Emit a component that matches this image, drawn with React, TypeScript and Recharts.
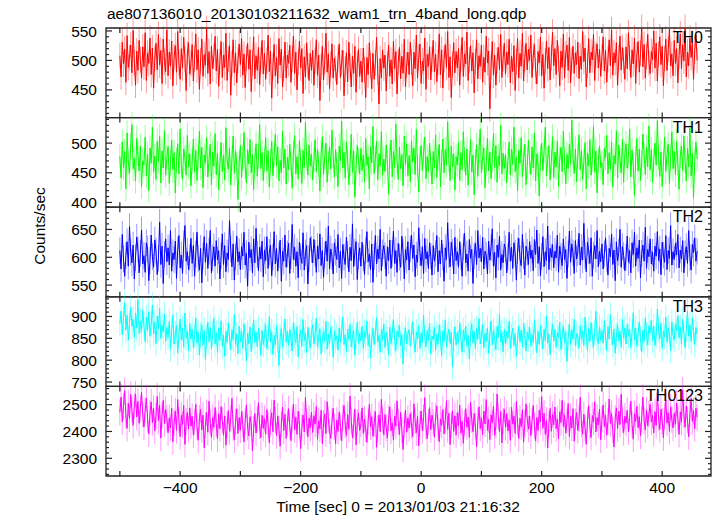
import React from 'react';
import { LineChart, Line, XAxis, YAxis, ErrorBar, ReferenceArea } from 'recharts';

// texts
const TITLE = 'ae807136010_20130103211632_wam1_trn_4band_long.qdp';
const X_LABEL = 'Time [sec] 0 = 2013/01/03 21:16:32';
const Y_LABEL = 'Counts/sec';

// time bins (2 s)
const T_START = -500;
const T_BIN = 2;
const X_DOMAIN = [-523, 481];
const X_TICKS = [-500, -400, -300, -200, -100, 0, 100, 200, 300, 400];
const X_TICK_LABELS = ['−400', '−200', '0', '200', '400'];
const X_LABELED = [-400, -200, 0, 200, 400];

// bands
const BAND_NAMES = ['TH0', 'TH1', 'TH2', 'TH3', 'TH0123'];
const BAND_COLORS = ['#ff0000', '#00ff00', '#0000ff', '#00ffff', '#ff00ff'];
const BAND_ERRORS = [22, 21, 24, 29, 49];
const Y_DOMAINS = [[403, 555], [392, 543], [529, 690], [740, 945], [2234, 2568]];
const Y_MAJOR = [[450, 500, 550], [400, 450, 500], [550, 600, 650], [750, 800, 850, 900], [2300, 2400, 2500]];
const Y_MINOR_STEP = [10, 10, 10, 10, 20];

const TH0 = [
  508, 472, 531, 494, 519, 463, 542, 488, 505, 526, 479, 551, 497, 458, 516, 483, 534, 501, 470, 523,
  489, 547, 466, 512, 495, 538, 476, 521, 453, 503, 529, 484, 544, 492, 517, 461, 536, 498, 481, 552,
  474, 514, 490, 533, 457, 506, 525, 480, 549, 496, 468, 520, 487, 539, 502, 449, 511, 530, 477, 495,
  527, 465, 503, 545, 484, 518, 451, 499, 536, 473, 510, 492, 554, 478, 515, 460, 524, 486, 507, 541,
  482, 519, 456, 498, 532, 471, 509, 488, 546, 466, 502, 525, 441, 494, 535, 479, 513, 462, 500, 528,
  493, 537, 475, 511, 454, 504, 529, 485, 518, 447, 496, 540, 469, 508, 483, 522, 459, 501, 534, 477,
  512, 468, 499, 543, 481, 516, 436, 490, 527, 474, 505, 461, 537, 492, 519, 455, 486, 531, 470, 509,
  495, 526, 463, 502, 541, 478, 514, 450, 497, 533, 487, 520, 444, 506, 472, 530, 491, 466, 512, 483,
  517, 458, 500, 535, 475, 509, 432, 489, 524, 467, 498, 546, 480, 511, 452, 493, 528, 470, 504, 486,
  459, 502, 528, 471, 496, 517, 440, 485, 513, 464, 531, 490, 455, 507, 478, 524, 446, 494, 519, 473,
  499, 463, 521, 484, 437, 505, 476, 530, 491, 452, 512, 468, 496, 539, 481, 426, 503, 470, 518, 487,
  509, 448, 494, 526, 473, 501, 460, 532, 486, 515, 443, 497, 522, 469, 507, 478, 536, 455, 492, 514,
  476, 531, 497, 457, 514, 486, 543, 470, 505, 528, 461, 499, 482, 538, 451, 510, 490, 523, 467, 502,
  534, 481, 510, 464, 497, 545, 476, 518, 453, 502, 527, 488, 549, 471, 506, 437, 493, 530, 479, 515,
  487, 520, 458, 503, 539, 473, 511, 494, 548, 466, 501, 525, 482, 513, 445, 498, 535, 469, 508, 490,
  526, 463, 505, 480, 541, 496, 516, 418, 489, 532, 475, 509, 458, 500, 522, 484, 544, 471, 503, 529,
  477, 514, 493, 536, 462, 507, 481, 525, 449, 498, 537, 470, 512, 490, 546, 465, 503, 529, 484, 519,
  500, 543, 471, 508, 527, 482, 460, 515, 496, 540, 474, 510, 453, 499, 533, 486, 522, 467, 505, 548,
  491, 520, 476, 534, 503, 457, 516, 488, 545, 470, 511, 526, 483, 539, 462, 500, 524, 478, 513, 493,
  531, 469, 507, 485, 549, 498, 521, 455, 492, 537, 479, 514, 501, 544, 466, 509, 528, 487, 519, 473,
  506, 540, 482, 517, 463, 502, 535, 491, 552, 475, 513, 496, 530, 458, 504, 541, 484, 522, 499, 468,
  523, 486, 547, 504, 471, 518, 494, 538, 461, 509, 532, 480, 512, 556, 489, 527, 470, 507, 544, 496,
  478, 515, 501, 550, 487, 529, 465, 510, 540, 493, 524, 457, 503, 536, 483, 518, 553, 491, 511, 474,
  534, 495, 520, 462, 508, 545, 486, 527, 499, 556, 472, 514, 491, 538, 505, 529, 468, 516, 543, 500,
];

const TH1 = [
  478, 441, 502, 459, 486, 423, 517, 468, 449, 496, 531, 457, 474, 436, 508, 482, 453, 495, 427, 470,
  463, 510, 445, 481, 420, 492, 466, 527, 451, 478, 439, 503, 469, 512, 433, 487, 458, 521, 446, 476,
  494, 432, 467, 505, 455, 484, 416, 471, 499, 448, 524, 462, 439, 490, 475, 446, 513, 460, 482, 428,
  469, 507, 451, 488, 437, 476, 520, 458, 493, 425, 480, 466, 509, 443, 472, 498, 430, 485, 461, 516,
  447, 483, 421, 464, 501, 452, 479, 438, 526, 470, 456, 492, 429, 474, 512, 449, 487, 463, 405, 468,
  496, 442, 475, 518, 460, 433, 489, 465, 506, 450, 481, 422, 470, 499, 444, 478, 531, 457, 484, 437,
  472, 509, 453, 487, 426, 468, 503, 445, 479, 515, 462, 494, 436, 471, 450, 520, 458, 490, 431, 476,
  455, 498, 467, 424, 485, 513, 448, 477, 440, 504, 469, 432, 488, 459, 535, 474, 446, 497, 462, 481,
  438, 471, 506, 452, 490, 465, 419, 482, 511, 447, 476, 500, 434, 467, 493, 456, 522, 479, 443, 489,
  464, 427, 495, 470, 537, 458, 484, 441, 502, 473, 430, 466, 515, 451, 487, 409, 460, 496, 471, 448,
  491, 454, 480, 435, 508, 462, 477, 423, 494, 467, 528, 449, 475, 503, 438, 482, 461, 519, 446, 473,
  452, 497, 466, 414, 478, 505, 443, 486, 459, 532, 470, 439, 493, 457, 481, 428, 512, 464, 499, 445,
  479, 435, 504, 468, 492, 447, 523, 461, 418, 474, 496, 454, 485, 510, 440, 477, 452, 500, 466, 431,
  486, 458, 514, 442, 475, 498, 426, 469, 507, 450, 489, 463, 536, 472, 437, 495, 460, 482, 421, 477,
  463, 501, 437, 484, 455, 519, 472, 446, 490, 429, 466, 506, 451, 480, 413, 469, 497, 444, 487, 524,
  450, 476, 492, 425, 467, 508, 453, 485, 440, 472, 516, 459, 496, 434, 478, 462, 530, 448, 483, 457,
  481, 433, 471, 502, 446, 490, 464, 527, 452, 477, 420, 488, 466, 509, 443, 474, 498, 430, 461, 505,
  470, 447, 494, 458, 517, 436, 482, 465, 411, 476, 500, 454, 487, 527, 445, 473, 496, 438, 468, 511,
  442, 485, 460, 503, 427, 474, 493, 452, 520, 468, 431, 481, 457, 498, 464, 539, 476, 449, 490, 435,
  478, 514, 455, 488, 439, 469, 501, 423, 483, 461, 506, 446, 473, 528, 451, 487, 416, 470, 495, 459,
  467, 430, 491, 475, 513, 448, 484, 456, 502, 426, 479, 465, 521, 441, 497, 471, 450, 507, 434, 482,
  499, 458, 477, 524, 443, 488, 462, 412, 474, 508, 453, 490, 437, 466, 515, 480, 447, 493, 460, 529,
  455, 489, 434, 471, 500, 463, 538, 476, 444, 485, 427, 468, 510, 452, 481, 498, 432, 474, 519, 457,
  486, 447, 503, 466, 422, 479, 495, 454, 512, 470, 436, 491, 460, 525, 445, 483, 408, 469, 502, 473,
];

const TH2 = [
  612, 579, 641, 597, 566, 603, 628, 584, 655, 609, 590, 622, 561, 599, 636, 614, 572, 607, 649, 588,
  603, 573, 626, 615, 558, 594, 640, 601, 582, 631, 611, 569, 598, 663, 587, 620, 553, 605, 633, 592,
  617, 586, 648, 575, 608, 596, 629, 562, 613, 639, 581, 604, 571, 624, 657, 593, 610, 578, 600, 634,
  589, 621, 566, 606, 645, 598, 577, 616, 554, 602, 637, 591, 625, 580, 611, 648, 572, 599, 619, 584,
  630, 595, 612, 561, 603, 642, 587, 621, 574, 608, 596, 666, 615, 583, 624, 559, 601, 638, 592, 610,
  578, 619, 602, 645, 586, 607, 548, 627, 599, 614, 572, 633, 590, 652, 605, 576, 618, 597, 629, 565,
  613, 594, 637, 580, 609, 622, 567, 600, 646, 588, 616, 575, 604, 631, 557, 611, 593, 640, 582, 606,
  625, 571, 603, 659, 596, 618, 584, 610, 563, 627, 601, 589, 644, 577, 608, 621, 552, 598, 635, 614,
  590, 632, 607, 573, 620, 597, 642, 585, 612, 564, 604, 629, 593, 656, 579, 615, 601, 570, 626, 609,
  596, 641, 581, 611, 562, 623, 600, 587, 636, 605, 574, 618, 594, 660, 583, 609, 628, 560, 602, 617,
  584, 627, 599, 569, 613, 646, 592, 606, 578, 624, 555, 601, 639, 588, 615, 597, 650, 576, 608, 621,
  603, 566, 619, 594, 631, 580, 607, 647, 589, 612, 573, 625, 600, 582, 638, 609, 561, 614, 595, 628,
  577, 615, 640, 598, 622, 565, 604, 591, 653, 608, 585, 619, 571, 634, 597, 610, 580, 626, 602, 568,
  621, 593, 607, 639, 574, 612, 588, 631, 600, 557, 617, 596, 662, 605, 583, 627, 609, 570, 636, 594,
  610, 582, 628, 601, 566, 619, 643, 590, 606, 575, 632, 598, 614, 553, 603, 625, 587, 648, 599, 616,
  592, 636, 579, 611, 604, 570, 629, 595, 617, 651, 584, 609, 563, 622, 600, 638, 577, 605, 590, 624,
  615, 572, 601, 645, 593, 618, 580, 626, 607, 559, 612, 634, 597, 585, 641, 603, 568, 620, 609, 587,
  628, 598, 613, 576, 632, 605, 649, 589, 619, 567, 602, 637, 583, 610, 594, 656, 578, 616, 600, 623,
  581, 611, 599, 640, 573, 620, 602, 585, 633, 596, 614, 562, 606, 647, 591, 624, 608, 571, 630, 597,
  609, 643, 586, 618, 595, 661, 603, 574, 627, 612, 589, 635, 566, 604, 621, 597, 648, 583, 611, 592,
  624, 579, 606, 635, 597, 568, 616, 601, 642, 587, 613, 558, 628, 594, 609, 650, 582, 619, 603, 576,
  600, 638, 591, 612, 572, 626, 605, 645, 584, 617, 598, 631, 563, 607, 622, 593, 654, 580, 614, 601,
  633, 588, 609, 575, 620, 602, 646, 594, 615, 569, 627, 604, 591, 639, 578, 612, 598, 657, 586, 610,
  596, 625, 604, 641, 581, 613, 597, 630, 572, 606, 619, 589, 648, 600, 577, 623, 608, 635, 593, 611,
];

const TH3 = [
  884, 912, 858, 897, 931, 869, 903, 846, 885, 921, 877, 894, 852, 908, 873, 939, 861, 890, 866, 915,
  879, 842, 898, 868, 911, 855, 883, 926, 861, 887, 838, 901, 872, 919, 850, 880, 864, 906, 843, 875,
  852, 889, 825, 868, 903, 837, 861, 880, 816, 857, 894, 846, 873, 830, 908, 851, 866, 822, 884, 848,
  871, 829, 856, 897, 839, 864, 812, 858, 881, 834, 869, 801, 853, 887, 842, 875, 826, 860, 896, 837,
  862, 818, 874, 845, 890, 833, 857, 809, 866, 841, 885, 853, 824, 870, 847, 905, 836, 859, 815, 878,
  843, 867, 827, 884, 851, 798, 862, 838, 876, 819, 855, 892, 840, 864, 831, 873, 849, 811, 868, 836,
  858, 881, 826, 850, 899, 842, 865, 813, 857, 835, 879, 846, 788, 853, 872, 829, 861, 894, 841, 866,
  834, 870, 847, 821, 886, 856, 839, 877, 808, 852, 869, 831, 893, 845, 862, 817, 875, 849, 828, 863,
  881, 837, 859, 896, 830, 854, 872, 814, 848, 866, 843, 889, 825, 860, 838, 877, 853, 806, 867, 845,
  856, 823, 874, 841, 863, 899, 836, 858, 820, 871, 847, 882, 830, 855, 868, 811, 852, 887, 839, 861,
  844, 878, 827, 865, 851, 890, 833, 859, 805, 848, 873, 836, 862, 897, 842, 857, 818, 870, 846, 883,
  829, 864, 849, 812, 876, 838, 861, 894, 845, 822, 867, 853, 880, 834, 858, 791, 850, 874, 837, 860,
  870, 833, 857, 888, 844, 819, 865, 848, 879, 827, 862, 840, 903, 852, 831, 868, 846, 884, 814, 855,
  847, 875, 822, 859, 836, 881, 853, 810, 866, 843, 892, 830, 857, 871, 838, 864, 784, 849, 876, 835,
  863, 840, 886, 851, 818, 869, 845, 878, 832, 857, 803, 861, 883, 839, 866, 826, 872, 848, 895, 837,
  854, 881, 828, 862, 843, 874, 816, 858, 890, 835, 868, 849, 824, 877, 852, 906, 841, 863, 819, 870,
  838, 866, 850, 889, 827, 855, 873, 834, 861, 809, 847, 879, 842, 868, 830, 885, 856, 821, 864, 848,
  875, 832, 858, 841, 892, 849, 817, 866, 836, 880, 853, 826, 871, 845, 901, 839, 860, 813, 857, 882,
  844, 870, 829, 863, 851, 887, 824, 856, 878, 840, 865, 797, 852, 883, 836, 869, 848, 894, 833, 861,
  853, 827, 879, 846, 867, 834, 898, 859, 821, 872, 843, 886, 855, 830, 864, 912, 850, 838, 876, 845,
  868, 839, 890, 853, 822, 877, 848, 904, 862, 835, 871, 816, 857, 881, 844, 866, 829, 893, 851, 874,
  837, 882, 855, 871, 828, 864, 909, 846, 874, 832, 860, 887, 851, 819, 869, 843, 896, 858, 835, 879,
  862, 891, 845, 878, 834, 856, 917, 870, 848, 885, 827, 866, 853, 899, 841, 874, 860, 822, 888, 857,
  846, 883, 867, 902, 851, 876, 838, 894, 862, 829, 871, 913, 855, 880, 843, 897, 866, 836, 875, 859,
];

const TH0123 = [
  2471, 2528, 2436, 2493, 2552, 2458, 2412, 2505, 2447, 2538, 2481, 2423, 2496, 2539, 2454, 2512, 2430, 2487, 2546, 2463,
  2417, 2479, 2524, 2445, 2391, 2468, 2510, 2433, 2486, 2402, 2457, 2531, 2440, 2498, 2375, 2462, 2516, 2428, 2482, 2449,
  2395, 2451, 2413, 2487, 2362, 2432, 2476, 2404, 2519, 2443, 2381, 2460, 2426, 2497, 2352, 2438, 2471, 2409, 2488, 2420,
  2456, 2388, 2435, 2501, 2418, 2367, 2449, 2482, 2406, 2461, 2339, 2425, 2470, 2397, 2513, 2434, 2378, 2452, 2415, 2489,
  2429, 2372, 2466, 2410, 2493, 2441, 2386, 2458, 2349, 2422, 2478, 2401, 2447, 2523, 2414, 2369, 2437, 2484, 2393, 2452,
  2405, 2474, 2427, 2361, 2439, 2499, 2416, 2383, 2455, 2431, 2328, 2408, 2467, 2394, 2446, 2507, 2421, 2377, 2460, 2412,
  2448, 2390, 2481, 2423, 2358, 2436, 2470, 2399, 2517, 2442, 2384, 2457, 2411, 2345, 2428, 2491, 2403, 2464, 2374, 2433,
  2485, 2419, 2366, 2444, 2502, 2407, 2453, 2389, 2476, 2425, 2336, 2415, 2461, 2398, 2528, 2437, 2380, 2450, 2413, 2472,
  2396, 2459, 2427, 2493, 2371, 2440, 2409, 2479, 2354, 2431, 2466, 2392, 2511, 2445, 2401, 2374, 2438, 2486, 2418, 2355,
  2442, 2400, 2473, 2416, 2365, 2451, 2497, 2424, 2385, 2463, 2408, 2532, 2439, 2377, 2420, 2483, 2350, 2434, 2469, 2404,
  2427, 2488, 2393, 2446, 2410, 2359, 2437, 2501, 2418, 2455, 2382, 2430, 2474, 2341, 2411, 2462, 2399, 2520, 2443, 2387,
  2463, 2413, 2376, 2448, 2491, 2402, 2432, 2368, 2457, 2420, 2514, 2436, 2389, 2471, 2406, 2333, 2425, 2480, 2397, 2450,
  2412, 2467, 2424, 2381, 2503, 2441, 2395, 2458, 2347, 2429, 2476, 2403, 2452, 2526, 2419, 2373, 2435, 2489, 2406, 2461,
  2434, 2379, 2456, 2495, 2414, 2362, 2447, 2423, 2482, 2391, 2440, 2515, 2408, 2468, 2351, 2426, 2477, 2400, 2459, 2386,
  2470, 2422, 2498, 2394, 2437, 2356, 2431, 2485, 2416, 2453, 2378, 2509, 2444, 2399, 2467, 2420, 2343, 2438, 2492, 2411,
  2451, 2388, 2476, 2428, 2519, 2404, 2445, 2370, 2462, 2433, 2494, 2385, 2421, 2540, 2455, 2398, 2474, 2357, 2439, 2483,
  2416, 2466, 2402, 2443, 2367, 2490, 2427, 2458, 2393, 2512, 2435, 2374, 2449, 2418, 2481, 2360, 2431, 2503, 2447, 2409,
  2458, 2384, 2439, 2497, 2421, 2365, 2452, 2404, 2479, 2436, 2530, 2412, 2468, 2389, 2442, 2338, 2427, 2486, 2401, 2463,
  2425, 2491, 2410, 2446, 2372, 2473, 2433, 2516, 2419, 2462, 2394, 2440, 2504, 2381, 2456, 2413, 2485, 2364, 2437, 2471,
  2403, 2448, 2527, 2429, 2390, 2464, 2413, 2352, 2441, 2496, 2420, 2378, 2459, 2435, 2511, 2398, 2452, 2424, 2484, 2369,
  2445, 2499, 2418, 2461, 2386, 2438, 2521, 2430, 2467, 2405, 2342, 2449, 2488, 2411, 2475, 2426, 2539, 2443, 2396, 2457,
  2432, 2478, 2399, 2452, 2513, 2425, 2371, 2466, 2437, 2494, 2414, 2455, 2383, 2447, 2528, 2440, 2406, 2481, 2422, 2465,
  2501, 2436, 2460, 2394, 2474, 2423, 2545, 2451, 2408, 2483, 2439, 2376, 2458, 2517, 2431, 2470, 2400, 2492, 2444, 2413,
  2468, 2427, 2506, 2449, 2389, 2473, 2435, 2554, 2461, 2416, 2495, 2442, 2380, 2466, 2523, 2438, 2477, 2410, 2487, 2452,
];

const BANDS = [TH0, TH1, TH2, TH3, TH0123];

// layout
const W = 717;
const H = 516;
const PLOT_L = 106;
const PLOT_R = 711;
const PLOT_W = PLOT_R - PLOT_L;
const PANEL_TOP = 28;
const PANEL_H = 89.6;
const X_AXIS_H = 30;
const FONT = '"Liberation Sans", Arial, Helvetica, sans-serif';
const FONT_SIZE = 15.5;
const FRAME = '#222';

const fmtX = (v: number) => X_TICK_LABELS[X_LABELED.indexOf(v)];

const XTick = (props: any) => {
  const { x, y, payload, showLabel } = props;
  const v = payload.value;
  return (
    <g>
      <line x1={x} x2={x} y1={y} y2={y - 5} stroke={FRAME} strokeWidth={1.2} />
      <line x1={x} x2={x} y1={y - PANEL_H} y2={y - PANEL_H + 5} stroke={FRAME} strokeWidth={1.2} />
      {showLabel && X_LABELED.includes(v) && (
        <text x={x} y={y + 17} textAnchor="middle" fontFamily={FONT} fontSize={FONT_SIZE} fill="#000">
          {fmtX(v)}
        </text>
      )}
    </g>
  );
};

const YTick = (props: any) => {
  const { x, y, payload, majors } = props;
  const v = payload.value;
  const major = majors.includes(v);
  const len = major ? 6 : 3;
  return (
    <g>
      <line x1={x} x2={x + len} y1={y} y2={y} stroke={FRAME} strokeWidth={1.2} />
      <line x1={x + PLOT_W - len} x2={x + PLOT_W} y1={y} y2={y} stroke={FRAME} strokeWidth={1.2} />
      {major && (
        <text x={x - 9} y={y} dy="0.36em" textAnchor="end" fontFamily={FONT} fontSize={FONT_SIZE} fill="#000">
          {v}
        </text>
      )}
    </g>
  );
};

const yTicksFor = (i: number) => {
  const [lo, hi] = Y_DOMAINS[i];
  const step = Y_MINOR_STEP[i];
  const out: number[] = [];
  for (let v = Math.ceil(lo / step) * step; v <= hi; v += step) out.push(v);
  return out;
};

const Panel = ({ i }: { i: number }) => {
  const top = PANEL_TOP + i * PANEL_H;
  const bottom = top + PANEL_H;
  const rows = BANDS[i].map((v, k) => ({ t: T_START + k * T_BIN, v, e: BAND_ERRORS[i] }));
  const color = BAND_COLORS[i];
  const yDom = Y_DOMAINS[i];
  return (
    <div style={{ position: 'absolute', left: 0, top: 0 }}>
      <LineChart
        width={W}
        height={H}
        data={rows}
        margin={{ top, right: W - PLOT_R, bottom: H - bottom - X_AXIS_H, left: 0 }}
      >
        <XAxis
          type="number"
          dataKey="t"
          domain={X_DOMAIN}
          ticks={X_TICKS}
          interval={0}
          allowDataOverflow
          height={X_AXIS_H}
          axisLine={false}
          tickLine={false}
          tickSize={0}
          tickMargin={0}
          tick={(p: any) => <XTick {...p} showLabel={i === BANDS.length - 1} />}
        />
        <YAxis
          type="number"
          domain={yDom}
          ticks={yTicksFor(i)}
          interval={0}
          allowDataOverflow
          width={PLOT_L}
          axisLine={false}
          tickLine={false}
          tickSize={0}
          tickMargin={0}
          tick={(p: any) => <YTick {...p} majors={Y_MAJOR[i]} />}
        />
        <Line
          type="linear"
          dataKey="v"
          stroke={color}
          strokeWidth={1}
          dot={false}
          activeDot={false}
          isAnimationActive={false}
        >
          <ErrorBar dataKey="e" direction="y" width={0} stroke={color} strokeOpacity={0.4} strokeWidth={1} />
        </Line>
        <ReferenceArea
          x1={X_DOMAIN[0]}
          x2={X_DOMAIN[1]}
          y1={yDom[0]}
          y2={yDom[1]}
          fill="none"
          stroke={FRAME}
          strokeWidth={1.3}
          ifOverflow="visible"
        />
      </LineChart>
      <div
        style={{
          position: 'absolute',
          right: W - 703,
          top: top + 1,
          fontFamily: FONT,
          fontSize: 16,
          lineHeight: '18px',
          color: '#000',
          whiteSpace: 'nowrap',
        }}
      >
        {BAND_NAMES[i]}
      </div>
    </div>
  );
};

export default function App() {
  return (
    <div style={{ position: 'absolute', left: 0, top: 0, width: W, height: H, background: '#fff', overflow: 'hidden' }}>
      <div
        style={{
          position: 'absolute',
          left: 107,
          top: 5,
          fontFamily: FONT,
          fontSize: FONT_SIZE,
          lineHeight: '18px',
          whiteSpace: 'nowrap',
          color: '#000',
        }}
      >
        {TITLE}
      </div>
      {BANDS.map((_, i) => (
        <Panel key={i} i={i} />
      ))}
      <div
        style={{
          position: 'absolute',
          left: 40,
          top: 226,
          transform: 'translate(-50%, -50%) rotate(-90deg)',
          fontFamily: FONT,
          fontSize: FONT_SIZE,
          whiteSpace: 'nowrap',
          color: '#000',
        }}
      >
        {Y_LABEL}
      </div>
      <div
        style={{
          position: 'absolute',
          left: 398,
          top: 498,
          transform: 'translateX(-50%)',
          fontFamily: FONT,
          fontSize: FONT_SIZE,
          lineHeight: '18px',
          whiteSpace: 'nowrap',
          color: '#000',
        }}
      >
        {X_LABEL}
      </div>
    </div>
  );
}
